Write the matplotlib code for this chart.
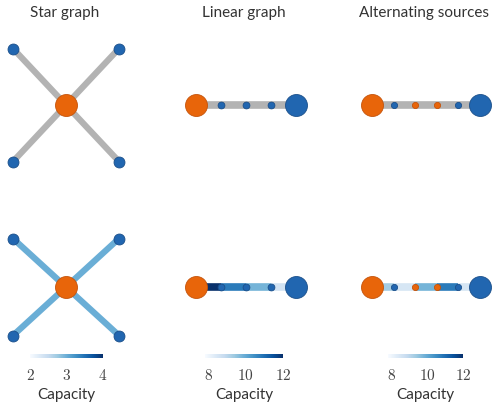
import numpy as np
import matplotlib
matplotlib.use("Agg")
import matplotlib.pyplot as plt
from matplotlib.colors import Normalize
from matplotlib.cm import ScalarMappable

plt.rcParams['mathtext.fontset'] = 'cm'

W, H = 492, 405

ORANGE = '#e8650a'
ORANGE_EDGE = '#c4530a'
BLUE = '#2166b0'
BLUE_EDGE = '#1b4f8a'
GRAY = '#b3b3b3'
cmap = plt.get_cmap('Blues')

titles = ['Star graph', 'Linear graph', 'Alternating sources']

# node roles: 's' = source (orange), 't' = sink (blue)
star_roles = ['s', 't', 't', 't', 't']
linear_roles = ['s', 't', 't', 't', 't']
alt_roles = ['s', 't', 's', 's', 't', 't']

# optimised capacities on each edge (bottom row)
star_caps = [3.0, 3.0, 3.0, 3.0]
linear_caps = [12.0, 10.8, 9.8, 8.6]
alt_caps = [9.3, 8.5, 9.8, 10.8, 8.5]

star_ticks = [2, 3, 4]
line_ticks = [8, 10, 12]
star_range = (2.0, 4.0)
line_range = (7.8, 12.0)

fig = plt.figure(figsize=(W / 100, H / 100), dpi=100)


def px_axes(x0, y0, x1, y1):
    return fig.add_axes([x0 / W, 1 - y1 / H, (x1 - x0) / W, (y1 - y0) / H])


def panel(cx, cy, sx, sy, hw=80, hh=80):
    ax = px_axes(cx - hw, cy - hh, cx + hw, cy + hh)
    ax.set_xlim(-hw / sx, hw / sx)
    ax.set_ylim(-hh / sy, hh / sy)
    ax.axis('off')
    return ax


def star_layout():
    pos = [(0.0, 0.0)]
    for a in [135, 45, 225, 315]:
        t = np.deg2rad(a)
        pos.append((np.sign(np.cos(t)), np.sign(np.sin(t))))
    edges = [(0, i) for i in range(1, 5)]
    return pos, edges


def line_layout(n):
    pos = [(i - (n - 1) / 2, 0.0) for i in range(n)]
    edges = [(i, i + 1) for i in range(n - 1)]
    return pos, edges


def draw_graph(ax, pos, edges, roles, caps, norm, lw, big, small, star=False):
    for k, (a, b) in enumerate(edges):
        col = GRAY if caps is None else cmap(norm(caps[k]))
        ax.plot([pos[a][0], pos[b][0]], [pos[a][1], pos[b][1]],
                color=col, lw=lw, solid_capstyle='butt', zorder=1)
    n = len(pos)
    for i, (x, y) in enumerate(pos):
        if star:
            s = big if i == 0 else small
        else:
            s = big if i in (0, n - 1) else small
        fc = ORANGE if roles[i] == 's' else BLUE
        ec = ORANGE_EDGE if roles[i] == 's' else BLUE_EDGE
        ax.scatter([x], [y], s=s, c=fc, edgecolors=ec, linewidths=0.6, zorder=3)


def colorbar(x0, x1, y, vr, ticks):
    cax = px_axes(x0, y - 2, x1, y + 2)
    sm = ScalarMappable(norm=Normalize(*vr), cmap=cmap)
    cb = fig.colorbar(sm, cax=cax, orientation='horizontal')
    cb.outline.set_visible(False)
    cb.set_ticks(ticks)
    cb.set_ticklabels(['$%d$' % t for t in ticks])
    cb.ax.tick_params(length=0, pad=7, labelsize=11, labelcolor='#444444')
    cb.set_label('Capacity', family='Lato', fontsize=11, color='#333333', labelpad=4)


star_norm = Normalize(*star_range)
line_norm = Normalize(*line_range)

col_x = [65, 244, 424]
for cx, t in zip(col_x, titles):
    fig.text(cx / W, 1 - 13 / H, t, ha='center', va='center',
             family='Lato', fontsize=11, color='#333333')

spos, sedges = star_layout()
lpos, ledges = line_layout(5)
apos, aedges = line_layout(6)

# top row: uniform (gray) edges
ax = panel(66, 105, 53, 56.5)
draw_graph(ax, spos, sedges, star_roles, None, star_norm, 4.5, 250, 62, star=True)
ax = panel(246, 105, 25, 25)
draw_graph(ax, lpos, ledges, linear_roles, None, line_norm, 5.5, 250, 24)
ax = panel(426, 105, 21.6, 21.6)
draw_graph(ax, apos, aedges, alt_roles, None, line_norm, 5.5, 250, 20)

# bottom row: edges coloured by capacity
ax = panel(66, 287, 53, 48.5)
draw_graph(ax, spos, sedges, star_roles, star_caps, star_norm, 4.5, 250, 62, star=True)
ax = panel(246, 287, 25, 25)
draw_graph(ax, lpos, ledges, linear_roles, linear_caps, line_norm, 5.5, 250, 24)
ax = panel(426, 287, 21.6, 21.6)
draw_graph(ax, apos, aedges, alt_roles, alt_caps, line_norm, 5.5, 250, 20)

colorbar(30, 103, 356, star_range, star_ticks)
colorbar(205, 283, 356, line_range, line_ticks)
colorbar(388, 463, 356, line_range, line_ticks)

fig.savefig('out.png', dpi=100)
